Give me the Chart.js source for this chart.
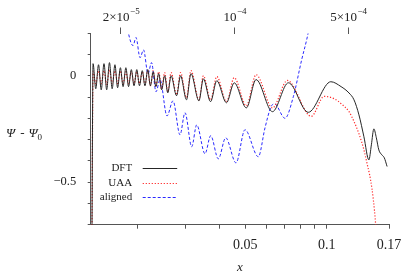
<!DOCTYPE html>
<html>
<head>
<meta charset="utf-8">
<script src="https://cdn.jsdelivr.net/npm/chart.js@4.4.1/dist/chart.umd.min.js"></script>
<style>
  html, body { margin: 0; padding: 0; background: #fff; }
</style>
</head>
<body>
<canvas id="chart" width="415" height="277"></canvas>
<script>
// bottom axis (x, log scale)
var dftX = [0.013523, 0.013673, 0.013989, 0.014324, 0.014655, 0.015007, 0.015354, 0.015722, 0.016086, 0.016471,
            0.016852, 0.017257, 0.017655, 0.018079, 0.018497, 0.018941, 0.019378, 0.019843, 0.020302, 0.020789,
            0.021270, 0.021780, 0.022283, 0.022818, 0.023346, 0.023906, 0.024520, 0.025151, 0.025842, 0.026574,
            0.027841, 0.028799, 0.030300, 0.031476, 0.033682, 0.034989, 0.037188, 0.039225, 0.042582, 0.045488,
            0.050438, 0.054800, 0.063017, 0.072158, 0.085464, 0.103576, 0.113013, 0.120931, 0.126160, 0.131614,
            0.137305, 0.143242, 0.146305, 0.149434, 0.152630, 0.155895, 0.159904, 0.163324, 0.167242];
var dftY = [-0.9, 0.058, -0.060, 0.053, -0.065, 0.058, -0.065, 0.063, -0.060, 0.053,
            -0.055, 0.039, -0.050, 0.039, -0.050, 0.030, -0.046, 0.030, -0.046, 0.025,
            -0.046, 0.030, -0.046, 0.020, -0.050, 0.011, -0.065, 0.001, -0.079, 0.001,
            -0.093, 0.001, -0.112, 0.011, -0.117, -0.013, -0.121, -0.022, -0.126, -0.032,
            -0.150, -0.017, -0.168, -0.032, -0.171, -0.027, -0.050, -0.080, -0.112, -0.183,
            -0.286, -0.395, -0.324, -0.249, -0.291, -0.348, -0.371, -0.385, -0.426];

var uaaX = [0.013523, 0.013673, 0.013989, 0.014324, 0.014655, 0.015007, 0.015354, 0.015722, 0.016086, 0.016471,
            0.016852, 0.017257, 0.017655, 0.018079, 0.018497, 0.018941, 0.019378, 0.019843, 0.020302, 0.020789,
            0.021270, 0.021780, 0.022283, 0.022818, 0.023346, 0.023906, 0.024520, 0.025151, 0.025842, 0.026574,
            0.027841, 0.028799, 0.030300, 0.031476, 0.033682, 0.034989, 0.037188, 0.039225, 0.042582, 0.045488,
            0.050438, 0.054800, 0.063017, 0.071550, 0.087662, 0.097864, 0.106511, 0.114264, 0.120931, 0.126160,
            0.131614, 0.137305, 0.140838, 0.145318, 0.148804, 0.151601, 0.153279];
var uaaY = [-0.9, 0.020, -0.036, 0.025, -0.036, 0.025, -0.041, 0.030, -0.036, 0.025,
            -0.036, 0.025, -0.036, 0.020, -0.036, 0.020, -0.036, 0.020, -0.036, 0.020,
            -0.041, 0.025, -0.046, 0.025, -0.050, 0.020, -0.060, 0.016, -0.074, 0.016,
            -0.088, 0.016, -0.102, 0.025, -0.112, 0.001, -0.112, -0.003, -0.121, -0.008,
            -0.140, 0.006, -0.150, -0.021, -0.190, -0.096, -0.107, -0.135, -0.168, -0.214,
            -0.272, -0.348, -0.409, -0.489, -0.583, -0.692, -0.772];

// top axis (log scale)
var alignedX = [2.178e-5, 2.218e-5, 2.371e-5, 2.474e-5, 2.618e-5, 2.751e-5, 2.932e-5, 3.081e-5, 3.283e-5, 3.474e-5,
                3.836e-5, 4.176e-5, 4.611e-5, 4.949e-5, 5.441e-5, 5.840e-5, 6.568e-5, 7.120e-5, 7.929e-5, 8.804e-5,
                1.0186e-4, 1.1569e-4, 1.3965e-4, 1.5354e-4, 1.6715e-4, 1.7564e-4, 2.0377e-4, 2.2917e-4, 2.5810e-4, 2.7703e-4,
                2.9441e-4];
var alignedY = [0.242, 0.204, 0.143, 0.181, 0.086, 0.123, 0.011, 0.063, -0.074, -0.017,
                -0.188, -0.117, -0.277, -0.173, -0.333, -0.230, -0.366, -0.281, -0.390, -0.291,
                -0.409, -0.253, -0.380, -0.244, -0.145, -0.131, -0.199, -0.098, 0.077, 0.171,
                0.266];

var xTicks = [0.02, 0.03, 0.04, 0.05, 0.06, 0.07, 0.08, 0.09, 0.1, 0.17];
var xLabels = ['', '', '', '0.05', '', '', '', '', '0.1', '0.17'];
var yTicks = [-0.7, -0.6, -0.5, -0.4, -0.3, -0.2, -0.1, 0, 0.1, 0.2];
var yLabels = ['', '', '\u22120.5', '', '', '', '', '0', '', ''];
var topTicks = [2e-5, 1e-4, 5e-4];
var topMant = ['2\u00d710', '10', '5\u00d710'];
var topExp = ['\u22125', '\u22124', '\u22124'];

var serif = '"Liberation Serif", "DejaVu Serif", serif';
Chart.defaults.font.family = serif;
Chart.defaults.color = '#222';

function pairs(xs, ys)
{
    var out = [];
    for (var i = 0; i < xs.length; i++) {
        out.push({x: xs[i], y: ys[i]});
    }
    return out;
}

function setTicks(list)
{
    return function(scale) {
        scale.ticks = list.map(function(v) { return {value: v}; });
    };
}

// draws the y title, the superscript top labels and the in-plot legend
var extraText = {
    id: 'extraText',
    afterDraw: function(chart) {
        var c = chart.ctx;
        var area = chart.chartArea;
        c.save();
        c.fillStyle = '#222';
        c.textBaseline = 'alphabetic';

        // y title: Psi - Psi_0
        var x0 = 6, y0 = 137;
        c.font = 'italic 13px ' + serif;
        c.textAlign = 'left';
        c.fillText('\u03a8', x0, y0);
        x0 += c.measureText('\u03a8').width + 5;
        c.font = '13px ' + serif;
        c.fillText('-', x0, y0);
        x0 += c.measureText('-').width + 4;
        c.font = 'italic 13px ' + serif;
        c.fillText('\u03a8', x0, y0);
        x0 += c.measureText('\u03a8').width;
        c.font = '9px ' + serif;
        c.fillText('0', x0, y0 + 3);

        // top axis labels
        var top = chart.scales.x2;
        for (var i = 0; i < topTicks.length; i++) {
            var px = top.getPixelForValue(topTicks[i]);
            c.font = '13px ' + serif;
            var w1 = c.measureText(topMant[i]).width;
            c.font = '9px ' + serif;
            var w2 = c.measureText(topExp[i]).width;
            var sx = px - (w1 + w2) / 2;
            c.font = '13px ' + serif;
            c.fillText(topMant[i], sx, 21);
            c.font = '9px ' + serif;
            c.fillText(topExp[i], sx + w1 + 0.5, 14);
        }

        // legend: label on the left, line sample on the right
        chart.data.datasets.forEach(function(ds, k) {
            var opts = chart.getDatasetMeta(k).dataset.options;
            var ly = Math.round(area.bottom - 56.4 + k * 14.6) + 0.5;
            c.font = '11px ' + serif;
            c.textAlign = 'right';
            c.textBaseline = 'middle';
            c.fillStyle = '#222';
            c.fillText(ds.label, area.left + 41.5, ly);
            c.save();
            c.beginPath();
            c.setLineDash(opts.borderDash || []);
            c.strokeStyle = opts.borderColor;
            c.lineWidth = 1.2;
            c.moveTo(area.left + 52, ly);
            c.lineTo(area.left + 86.5, ly);
            c.stroke();
            c.restore();
        });
        c.restore();
    }
};

var chart = new Chart(document.getElementById('chart'), {
    type: 'line',
    data: {
        datasets: [{
            label: 'DFT',
            data: pairs(dftX, dftY),
            borderColor: '#262626',
            borderWidth: 1,
            xAxisID: 'x'
        }, {
            label: 'UAA',
            data: pairs(uaaX, uaaY),
            borderColor: '#ff2a2a',
            borderWidth: 1.2,
            borderDash: [1.2, 1.8],
            xAxisID: 'x'
        }, {
            label: 'aligned',
            data: pairs(alignedX, alignedY),
            borderColor: '#2a2aff',
            borderWidth: 1,
            borderDash: [3, 2],
            xAxisID: 'x2'
        }]
    },
    options: {
        responsive: false,
        animation: false,
        layout: { padding: { left: 0, right: 26, top: 0, bottom: 0 } },
        elements: {
            point: { radius: 0 },
            line: { cubicInterpolationMode: 'monotone', fill: false }
        },
        plugins: {
            legend: { display: false },
            tooltip: { enabled: false }
        },
        scales: {
            x: {
                type: 'logarithmic',
                position: 'bottom',
                min: 0.0134,
                max: 0.17,
                afterBuildTicks: setTicks(xTicks),
                afterFit: function(s) { s.height = 52.3; },
                border: { display: true, color: '#555', width: 1 },
                grid: { drawOnChartArea: false, drawTicks: true, tickLength: 4, color: '#555' },
                ticks: {
                    autoSkip: false, maxRotation: 0, minRotation: 0, padding: 8,
                    font: { size: 14 },
                    callback: function(v, i) { return xLabels[i]; }
                },
                title: {
                    display: true, text: 'x',
                    font: { size: 13, style: 'italic' },
                    padding: { top: 0, bottom: 2 }
                }
            },
            x2: {
                type: 'logarithmic',
                position: 'top',
                min: 1.3026e-5,
                max: 8.88e-4,
                afterBuildTicks: setTicks(topTicks),
                afterFit: function(s) { s.height = 33.5; },
                border: { display: false },
                grid: { drawOnChartArea: false, drawTicks: true, tickLength: 6, color: '#555' },
                ticks: { display: false }
            },
            y: {
                type: 'linear',
                position: 'left',
                min: -0.7,
                max: 0.2,
                afterBuildTicks: setTicks(yTicks),
                afterFit: function(s) { s.width = 90.7; },
                border: { display: true, color: '#555', width: 1 },
                grid: { drawOnChartArea: false, drawTicks: true, tickLength: 3, color: '#555' },
                ticks: {
                    padding: 11.5,
                    font: { size: 12.5 },
                    callback: function(v, i) { return yLabels[i]; }
                }
            }
        }
    },
    plugins: [extraText]
});
</script>
</body>
</html>
